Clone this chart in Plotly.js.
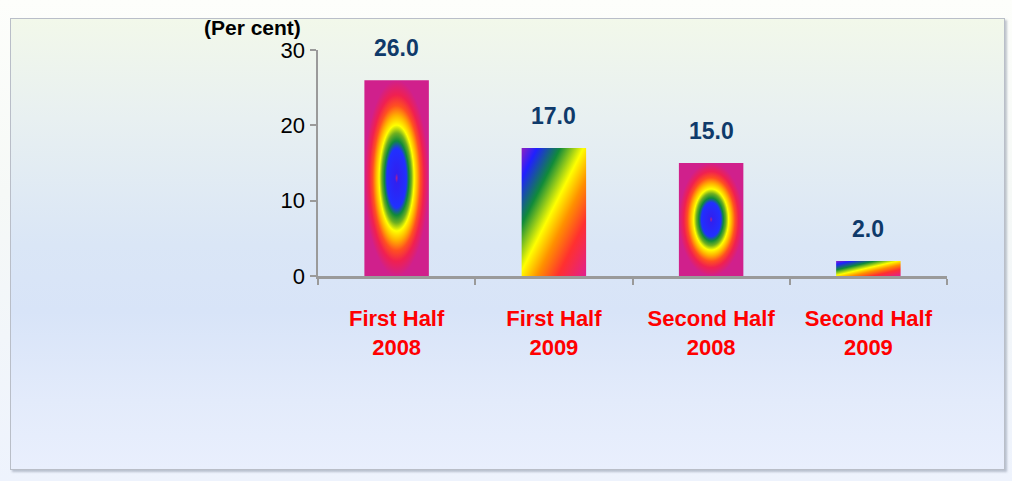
<!DOCTYPE html>
<html>
<head>
<meta charset="utf-8">
<script src="https://cdn.plot.ly/plotly-3.0.1.min.js"></script>
<style>
  html, body { margin: 0; padding: 0; }
  #wrap { position: relative; width: 1012px; height: 481px; overflow: hidden;
          background: linear-gradient(to bottom, #fdfefb 0%, #f6f9f7 40%, #eef3fd 100%); }
  #frame { position: absolute; left: 10px; top: 18px; width: 993px; height: 450px;
           border: 1px solid #b9bec8; box-shadow: 2px 2px 2px rgba(120,130,150,0.45);
           background: linear-gradient(to bottom, #f2f8ea 0%, #e8f0f1 22%, #dae6f6 50%, #d8e4f8 65%, #e3ebfb 85%, #e9effd 100%); }
  #chart { position: absolute; left: 0; top: 0; width: 1012px; height: 481px; }
</style>
</head>
<body>
<div id="wrap">
  <div id="frame"></div>
  <div id="chart"></div>
</div>
<script>
// ---- data ----
const categories = ["First Half<br>2008", "First Half<br>2009", "Second Half<br>2008", "Second Half<br>2009"];
const values = [26.0, 17.0, 15.0, 2.0];
const gradientKinds = ["radial", "horizontal", "radial", "horizontal"];
const yTicks = [0, 10, 20, 30];

// ---- styling ----
const barWidth = 0.41;
const radialScale = [[0, '#b0208f'], [0.05, '#3020f0'], [0.3, '#2030ff'], [0.38, '#108a3a'],
  [0.46, '#70b020'], [0.54, '#ffff00'], [0.64, '#ffb000'], [0.74, '#ff5020'], [0.85, '#f02050'], [1, '#d0208c']];
const linearScale = [[0, '#9020c0'], [0.12, '#2020ff'], [0.3, '#108a3a'], [0.48, '#ffff00'],
  [0.62, '#ff9000'], [0.78, '#ff3030'], [1, '#e0208f']];

const traces = values.map((v, i) => ({
  type: 'scatter', mode: 'lines', hoverinfo: 'skip', showlegend: false,
  x: [i - barWidth / 2, i + barWidth / 2, i + barWidth / 2, i - barWidth / 2, i - barWidth / 2],
  y: [0, 0, v, v, 0],
  fill: 'toself', line: { width: 0, color: 'rgba(0,0,0,0)' },
  fillcolor: '#ff3030',
  fillgradient: { type: gradientKinds[i], colorscale: gradientKinds[i] === 'radial' ? radialScale : linearScale }
}));

const annotations = values.map((v, i) => ({
  x: i, y: v, xref: 'x', yref: 'y', text: v.toFixed(1), showarrow: false,
  yanchor: 'bottom', yshift: 17,
  font: { family: 'Liberation Sans, Arial, sans-serif', size: 23, color: '#0f3a6a', weight: 'bold' }
}));
annotations.push({
  xref: 'paper', yref: 'paper', x: -0.104, y: 1.0, xanchor: 'center', yanchor: 'bottom', yshift: 9,
  text: '(Per cent)', showarrow: false,
  font: { family: 'Liberation Sans, Arial, sans-serif', size: 21, color: '#000', weight: 'bold' }
});

const layout = {
  width: 1012, height: 481,
  margin: { l: 318, r: 65, t: 50, b: 205 },
  paper_bgcolor: 'rgba(0,0,0,0)', plot_bgcolor: 'rgba(0,0,0,0)',
  showlegend: false,
  xaxis: {
    type: 'linear', range: [-0.5, 3.5], fixedrange: true,
    tickmode: 'array', tickvals: values.map((_, i) => i), ticktext: categories,
    ticks: '', showgrid: false, zeroline: false,
    showline: true, linecolor: '#9a9a9a', linewidth: 2.5,
    tickfont: { family: 'Liberation Sans, Arial, sans-serif', size: 22, color: '#ff0000', weight: 'bold' },
    minor: { tickmode: 'array', tickvals: [-0.5, 0.5, 1.5, 2.5, 3.5], ticks: 'outside', ticklen: 6, tickwidth: 2, tickcolor: '#9a9a9a', showgrid: false },
    ticklabelstandoff: 21
  },
  yaxis: {
    range: [0, 30], fixedrange: true, tickmode: 'array', tickvals: yTicks,
    ticks: 'outside', ticklen: 6, tickwidth: 2, tickcolor: '#9a9a9a',
    showgrid: false, zeroline: false, showline: true, linecolor: '#9a9a9a', linewidth: 2.5,
    tickfont: { family: 'Liberation Sans, Arial, sans-serif', size: 22, color: '#000' }
  },
  annotations: annotations
};

Plotly.newPlot('chart', traces, layout, { staticPlot: true, displayModeBar: false }).then(gd => {
  gd.querySelectorAll('linearGradient').forEach(g => {
    g.setAttribute('gradientUnits', 'objectBoundingBox');
    g.removeAttribute('gradientTransform');
    g.setAttribute('x1', '1'); g.setAttribute('y1', '1');
    g.setAttribute('x2', '0'); g.setAttribute('y2', '0');
  });
  gd.querySelectorAll('radialGradient').forEach(g => {
    g.setAttribute('gradientUnits', 'objectBoundingBox');
    g.removeAttribute('gradientTransform');
    g.setAttribute('cx', '0.5'); g.setAttribute('cy', '0.5');
    g.setAttribute('fx', '0.5'); g.setAttribute('fy', '0.5');
    g.setAttribute('r', '0.5');
  });
});
</script>
</body>
</html>
